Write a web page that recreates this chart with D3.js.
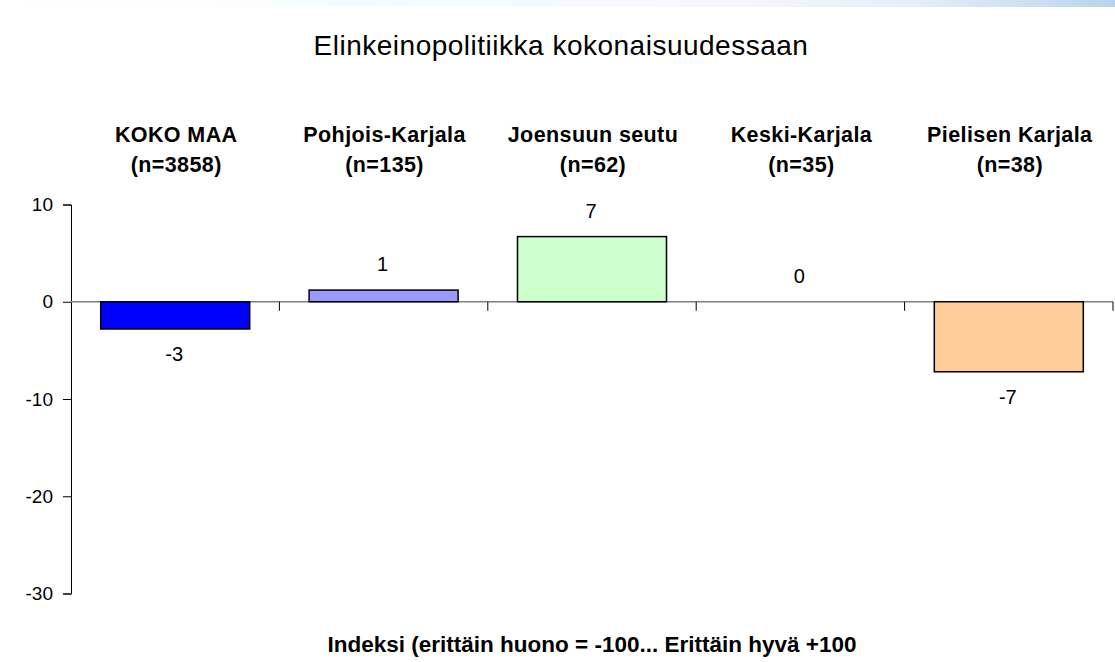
<!DOCTYPE html>
<html><head><meta charset="utf-8">
<script src="https://cdn.jsdelivr.net/npm/d3@7/dist/d3.min.js"></script>
<style>html,body{margin:0;padding:0;background:#fff;}svg{display:block;}</style>
</head><body>
<script>
const categories = ["KOKO MAA", "Pohjois-Karjala", "Joensuun seutu", "Keski-Karjala", "Pielisen Karjala"];
const sampleSizes = ["(n=3858)", "(n=135)", "(n=62)", "(n=35)", "(n=38)"];
const values = [-2.8, 1.2, 6.7, 0, -7.2];
const barColors = ["#0000FF", "#9999FF", "#CCFFCC", "#FFFFFF", "#FFCC99"];
const yTicks = [10, 0, -10, -20, -30];
const title = "Elinkeinopolitiikka kokonaisuudessaan";
const xTitle = "Indeksi (erittäin huono = -100... Erittäin hyvä +100";

const W = 1115, H = 662;
const font = "'Liberation Sans', Arial, sans-serif";
const svg = d3.select("body").append("svg").attr("width", W).attr("height", H);

// top gradient band
const defs = svg.append("defs");
const grad = defs.append("linearGradient").attr("id", "topg").attr("x1", "0").attr("x2", "1").attr("y1", "0").attr("y2", "0");
grad.append("stop").attr("offset", "0").attr("stop-color", "#ffffff");
grad.append("stop").attr("offset", "0.45").attr("stop-color", "#f6fbfe");
grad.append("stop").attr("offset", "0.65").attr("stop-color", "#f9f6fd");
grad.append("stop").attr("offset", "0.82").attr("stop-color", "#e6eef9");
grad.append("stop").attr("offset", "1").attr("stop-color", "#b8d4ec");
svg.append("rect").attr("x", 0).attr("y", 0).attr("width", W).attr("height", 7).attr("fill", "url(#topg)");

const x = d3.scaleBand().domain(categories).range([71, 1113]).padding(0);
const y = d3.scaleLinear().domain([-30, 10]).range([593.5, 204.5]);
const barW = x.bandwidth() * 0.715;

// title
svg.append("text").attr("x", 561).attr("y", 55).attr("text-anchor", "middle")
  .style("font-family", font).style("font-size", "28px").style("letter-spacing", "0.5px")
  .attr("fill", "#000").text(title);

// y axis
const yAxis = d3.axisLeft(y).tickValues(yTicks).tickSize(8).tickPadding(10).tickFormat(d => String(d));
const gy = svg.append("g").attr("transform", "translate(71,0)").call(yAxis);
gy.select(".domain").attr("stroke", "#000").attr("stroke-width", 1);
gy.selectAll(".tick line").attr("stroke", "#000");
gy.selectAll(".tick text").style("font-family", font).style("font-size", "19px").attr("fill", "#000");

// x axis at zero
const gx = svg.append("g").attr("transform", `translate(0,${y(0)})`);
gx.append("line").attr("x1", 71).attr("x2", 1113).attr("y1", 0).attr("y2", 0)
  .attr("stroke", "#808080").attr("stroke-width", 1.5);
gx.selectAll("line.tk").data(categories).join("line").attr("class", "tk")
  .attr("x1", d => x(d) + x.bandwidth()).attr("x2", d => x(d) + x.bandwidth())
  .attr("y1", 0).attr("y2", 9).attr("stroke", "#000");

// bars
const data = categories.map((c, i) => ({c, v: values[i], col: barColors[i]}));
svg.selectAll("rect.bar").data(data.filter(d => d.v !== 0)).join("rect").attr("class", "bar")
  .attr("x", d => x(d.c) + (x.bandwidth() - barW) / 2)
  .attr("width", barW)
  .attr("y", d => y(Math.max(0, d.v)))
  .attr("height", d => Math.abs(y(d.v) - y(0)))
  .attr("fill", d => d.col).attr("stroke", "#000").attr("stroke-width", 1.5);

// value labels
svg.selectAll("text.val").data(data).join("text").attr("class", "val")
  .attr("x", d => x(d.c) + x.bandwidth() / 2 - 1)
  .attr("y", d => d.v >= 0 ? y(d.v) - 19 : y(d.v) + 32)
  .attr("text-anchor", "middle").style("font-family", font).style("font-size", "20px").attr("fill", "#000")
  .text(d => String(Math.round(d.v)));

// category labels
const cl = svg.selectAll("g.cl").data(categories).join("g").attr("class", "cl");
cl.append("text").attr("x", d => x(d) + x.bandwidth() / 2 + 1).attr("y", 141.7)
  .attr("text-anchor", "middle").style("font-family", font).style("font-size", "21.5px").style("letter-spacing", "0.4px")
  .style("font-weight", "bold").text(d => d);
cl.append("text").attr("x", d => x(d) + x.bandwidth() / 2 + 1).attr("y", 171.7)
  .attr("text-anchor", "middle").style("font-family", font).style("font-size", "21.5px").style("letter-spacing", "0.4px")
  .style("font-weight", "bold").text((d, i) => sampleSizes[i]);

// x title (centred on plot area)
svg.append("text").attr("x", (x.range()[0] + x.range()[1]) / 2).attr("y", 652).attr("text-anchor", "middle")
  .style("font-family", font).style("font-size", "22.5px").style("font-weight", "bold").text(xTitle);
</script>
</body></html>
